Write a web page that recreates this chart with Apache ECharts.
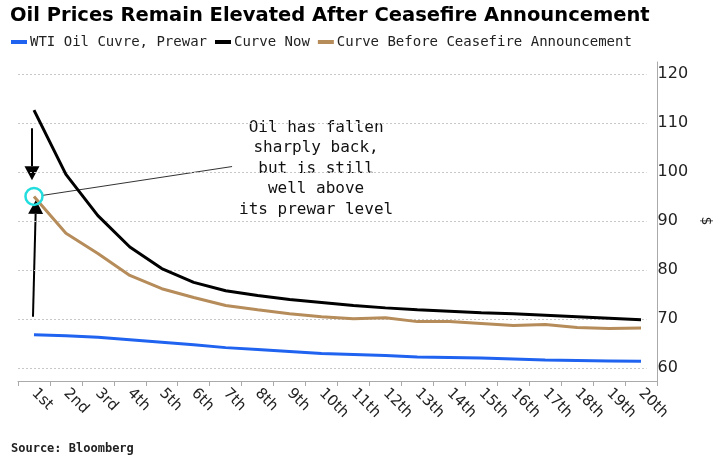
<!DOCTYPE html>
<html><head><meta charset="utf-8">
<script src="https://cdn.jsdelivr.net/npm/echarts@6/dist/echarts.min.js"></script>
<style>html,body{margin:0;padding:0;background:#fff}#c{width:721px;height:464px}</style>
</head><body><div id="c"></div>
<script>
const categories = ['1st','2nd','3rd','4th','5th','6th','7th','8th','9th','10th','11th','12th','13th','14th','15th','16th','17th','18th','19th','20th'];
const prewar = [66.9,66.7,66.4,65.9,65.4,64.9,64.3,63.9,63.5,63.1,62.9,62.7,62.4,62.3,62.2,62.0,61.8,61.7,61.6,61.5];
const curveNow = [112.7,99.6,91.2,84.8,80.4,77.6,75.9,74.9,74.1,73.5,72.9,72.4,72.0,71.7,71.4,71.2,70.9,70.6,70.3,70.0];
const beforeCeasefire = [95.1,87.6,83.5,79.0,76.3,74.5,72.9,72.0,71.2,70.6,70.2,70.4,69.6,69.6,69.2,68.8,69.0,68.4,68.2,68.3];
const yTicks = {min:60, max:120, step:10};
const names = ['WTI Oil Cuvre, Prewar','Curve Now','Curve Before Ceasefire Announcement'];
const noteLines = ['Oil has fallen','sharply back,','but is still','well above','its prewar level'];

const mono = '"DejaVu Sans Mono", "Liberation Mono", monospace';
const chart = echarts.init(document.getElementById('c'));
const option = {
  animation:false,
  backgroundColor:'#fff',
  title:{text:'Oil Prices Remain Elevated After Ceasefire Announcement', left:5, top:1,
    textStyle:{fontFamily:'"DejaVu Sans", sans-serif', fontWeight:'bold', fontSize:19.5, color:'#000'}},
  legend:{left:6, top:30, icon:'rect', itemWidth:16, itemHeight:4, itemGap:8,
    textStyle:{fontFamily:mono, fontSize:14, color:'#222', padding:[0,0,0,-2]},
    data:names},
  grid:[{left:18, right:64, top:62, bottom:83},{left:18, right:64, top:74, bottom:96}],
  xAxis:[
    {type:'category', gridIndex:0, data:categories, boundaryGap:true,
     axisLine:{lineStyle:{color:'#aaa', width:1}},
     axisTick:{show:true, length:5, lineStyle:{color:'#aaa'}},
     axisLabel:{rotate:-45, color:'#222', fontFamily:'"DejaVu Sans", sans-serif', fontSize:15, margin:10, interval:0}},
    {type:'category', gridIndex:1, data:categories, show:false}
  ],
  yAxis:[
    {type:'value', gridIndex:0, position:'right', min:57.5, max:122.5,
     axisLine:{show:true, lineStyle:{color:'#aaa'}}, axisTick:{show:false}, axisLabel:{show:false}, splitLine:{show:false}},
    {type:'value', gridIndex:1, position:'right', min:yTicks.min, max:yTicks.max, interval:yTicks.step,
     axisLine:{show:false}, axisTick:{show:false},
     axisLabel:{color:'#222', fontFamily:'"DejaVu Sans", sans-serif', fontSize:16, margin:11},
     splitLine:{show:true, lineStyle:{color:'#c8c8c8', type:[2,2], width:1}},
     name:'$', nameLocation:'middle', nameRotate:-90, nameGap:47,
     nameTextStyle:{color:'#222', fontFamily:'"DejaVu Sans", sans-serif', fontSize:14}}
  ],
  series:[
    {name:names[0], type:'line', xAxisIndex:0, yAxisIndex:0, data:prewar, showSymbol:false,
     lineStyle:{color:'#1f63f0', width:3}, itemStyle:{color:'#1f63f0'}},
    {name:names[1], type:'line', xAxisIndex:0, yAxisIndex:0, data:curveNow, showSymbol:false,
     lineStyle:{color:'#000', width:3}, itemStyle:{color:'#000'}},
    {name:names[2], type:'line', xAxisIndex:0, yAxisIndex:0, data:beforeCeasefire, showSymbol:false,
     lineStyle:{color:'#b58c5a', width:3}, itemStyle:{color:'#b58c5a'},
     markPoint:{silent:true, symbol:'circle', symbolSize:17,
       itemStyle:{color:'rgba(0,0,0,0)', borderColor:'#22dddd', borderWidth:2.5},
       label:{show:false},
       data:[{coord:[0, beforeCeasefire[0]]}]}}
  ],
  graphic:[{type:'text', left:11, top:443, style:{text:'Source: Bloomberg', font:'bold 12px '+mono, fill:'#222'}}]
};
chart.setOption(option);

// annotations positioned in data space (fractional category positions interpolated)
function px(xi, v){
  const i0 = Math.floor(xi), f = xi - i0;
  const a = chart.convertToPixel({gridIndex:0}, [i0, v]);
  const b = chart.convertToPixel({gridIndex:0}, [i0 + 1, v]);
  return [a[0] + (b[0] - a[0]) * f, a[1]];
}
const p0 = px(0, beforeCeasefire[0]);
const downTop = px(0, 109), downTip = px(0, 98.4);
const upBot = px(0, 70.6), upTip = px(0, 94.4);
const leadEnd = px(6.2, 101.2);
const textC = px(8.83, 111.2);
function arrow(a, b, dx1, dx2){
  const x1=a[0]+dx1, y1=a[1], x2=b[0]+dx2, y2=b[1];
  const ang=Math.atan2(y2-y1,x2-x1), L=14, W=7.5;
  const bx=x2-L*Math.cos(ang), by=y2-L*Math.sin(ang);
  return [
    {type:'line', shape:{x1:x1,y1:y1,x2:bx,y2:by}, style:{stroke:'#000', lineWidth:2}},
    {type:'polygon', shape:{points:[[x2,y2],[bx+W*Math.sin(ang),by-W*Math.cos(ang)],[bx-W*Math.sin(ang),by+W*Math.cos(ang)]]}, style:{fill:'#000'}}
  ];
}
const g = option.graphic.slice();
g.push(...arrow(downTop, downTip, -2, -2));
g.push(...arrow(upBot, upTip, -1, 2));
g.push({type:'line', shape:{x1:p0[0]+8, y1:p0[1]-1, x2:leadEnd[0], y2:leadEnd[1]}, style:{stroke:'#333', lineWidth:1}});
g.push({type:'text', x:textC[0], y:textC[1], style:{text:noteLines.join('\n'), font:'16px '+mono, fill:'#111', textAlign:'center', textVerticalAlign:'top', lineHeight:20.5}});
chart.setOption({graphic:g});
</script></body></html>
